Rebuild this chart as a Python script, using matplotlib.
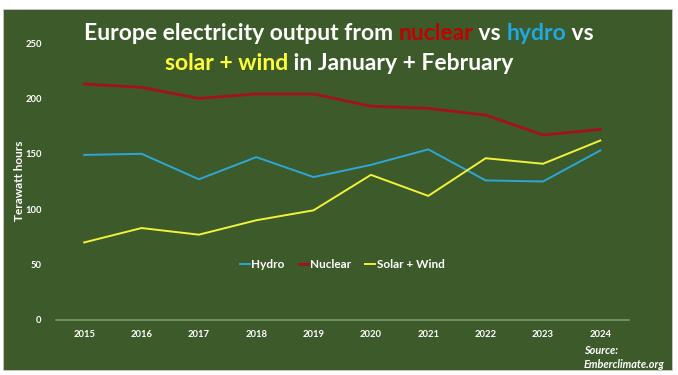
import matplotlib.pyplot as plt
from matplotlib.patches import Rectangle

years = [2015, 2016, 2017, 2018, 2019, 2020, 2021, 2022, 2023, 2024]
hydro = [149, 150, 127, 147, 129, 140, 154, 126, 125, 153]
nuclear = [213, 210, 200, 204, 204, 193, 191, 185, 167, 172]
solar_wind = [70, 83, 77, 90, 99, 131, 112, 146, 141, 162]
y_ticks = [0, 50, 100, 150, 200, 250]

bg = '#3D5A2B'
font = 'Lato'

fig = plt.figure(figsize=(6.78, 3.75), dpi=100, facecolor='white')
fig.patches.append(Rectangle((3 / 678, 5 / 375), 669 / 678, 361 / 375,
                             transform=fig.transFigure, facecolor=bg,
                             edgecolor='#c8c8c8', linewidth=0.6, zorder=-10))

ax = fig.add_axes([0.0819, 0.1467, 0.8458, 0.7386])
ax.set_zorder(5)
ax.set_facecolor('none')
x = list(range(len(years)))
ax.plot(x, hydro, color='#2EA6D6', linewidth=1.4, label='Hydro')
ax.plot(x, nuclear, color='#A3121C', linewidth=2.0, label='Nuclear')
ax.plot(x, solar_wind, color='#F2F23A', linewidth=1.4, label='Solar + Wind')

ax.set_xlim(-0.5, len(years) - 0.5)
ax.set_ylim(0, 250)
ax.set_xticks(x)
ax.set_xticklabels([str(y) for y in years])
ax.set_yticks(y_ticks)
for s in ['top', 'right', 'left']:
    ax.spines[s].set_visible(False)
ax.spines['bottom'].set_color('#7F9A6C')
ax.spines['bottom'].set_linewidth(1.2)
ax.tick_params(length=0, colors='white', labelsize=6.8, pad=7)
for lab in ax.get_xticklabels() + ax.get_yticklabels():
    lab.set_fontfamily(font)
    lab.set_fontweight('bold')
ax.tick_params(axis='y', pad=10)

fig.text(20 / 678, 1 - 181 / 375, 'Terawatt hours', rotation=90, color='white',
         fontsize=8.5, fontweight='bold', family=font, ha='center', va='center')

leg = ax.legend(loc='center', bbox_to_anchor=(0.5, 0.2), ncol=3, frameon=False,
                handlelength=0.8, handletextpad=0.15, columnspacing=1.2,
                prop={'family': font, 'weight': 'bold', 'size': 8.5})
for t in leg.get_texts():
    t.set_color('white')

fig.text(584 / 678, 1 - 350 / 375, 'Source:', color='white', fontsize=7.8,
         fontweight='bold', style='italic', family=font, va='center')
fig.text(584 / 678, 1 - 364 / 375, 'Emberclimate.org', color='white', fontsize=7.8,
         fontweight='bold', style='italic', family=font, va='center')

# multi-coloured title, drawn piece by piece
title_lines = [
    [('Europe electricity output from ', 'white'), ('nuclear', '#C00000'),
     (' vs ', 'white'), ('hydro', '#1FA9E0'), (' vs', 'white')],
    [('solar + wind', '#FFFF3C'), (' in January + February', 'white')],
]
title_y = [1 - 33 / 375, 1 - 63 / 375]
renderer = fig.canvas.get_renderer()
for parts, ty in zip(title_lines, title_y):
    texts = []
    for s, c in parts:
        t = fig.text(0, ty, s, color=c, fontsize=16.5, fontweight='bold',
                     family=font, va='center', zorder=6)
        texts.append(t)
    widths = [t.get_window_extent(renderer).width / fig.bbox.width for t in texts]
    xpos = 0.5 - sum(widths) / 2
    for t, w in zip(texts, widths):
        t.set_x(xpos)
        xpos += w

fig.savefig('out.png', dpi=100, facecolor='white')
